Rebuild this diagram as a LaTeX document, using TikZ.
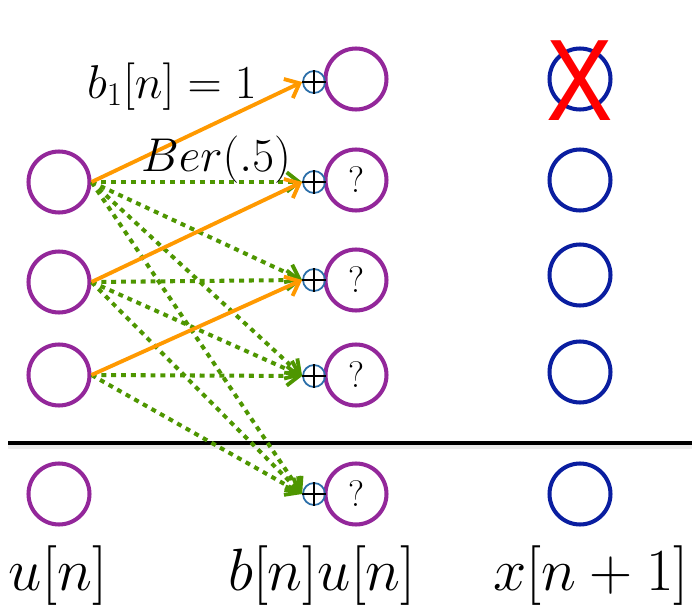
\RequirePackage{fix-cm}
\documentclass[tikz,border=0pt]{standalone}
\usepackage{fontspec}
\newfontfamily\crossfont{Liberation Sans}
\usetikzlibrary{arrows.meta}
\definecolor{inpurple}{RGB}{147,39,154}
\definecolor{stateblue}{RGB}{10,30,160}
\definecolor{addblue}{RGB}{43,110,168}
\definecolor{fixorange}{RGB}{255,153,0}
\definecolor{bergreen}{RGB}{78,150,0}
\begin{document}
\begin{tikzpicture}[x=0.02cm,y=-0.02cm,
  unode/.style={circle,draw=inpurple,line width=2.3pt,minimum size=1.22cm,inner sep=0pt,font=\fontsize{21}{24}\selectfont},
  xnode/.style={circle,draw=stateblue,line width=2.3pt,minimum size=1.22cm,inner sep=0pt},
  adder/.style={circle,draw=addblue,line width=1pt,minimum size=0.44cm,inner sep=0pt},
  fixed/.style={draw=fixorange,line width=2.2pt,-{Straight Barb[length=7pt,width=12pt,line width=2.2pt]}},
  random/.style={draw=bergreen,line width=2.3pt,dash pattern=on 2.8pt off 2.8pt,-{Straight Barb[length=7pt,width=11pt,line width=2.2pt]}},
  lbl/.style={font=\fontsize{34}{40}\selectfont},
  edgelbl/.style={font=\fontsize{27}{30}\selectfont}]
  \useasboundingbox (0,0) rectangle (700,615);
  % left column: u[n]
  \foreach \i/\y in {1/182,2/282,3/375,4/494}
    \node[unode] (u\i) at (59,\y) {};
  % middle column: b[n]u[n] with adders
  \node[unode] (b0) at (356,79) {};
  \foreach \i/\y in {1/180,2/280,3/375,4/494}
    \node[unode] (b\i) at (356,\y) {?};
  \foreach \i/\y in {0/82,1/182,2/280,3/376,4/494} {
    \node[adder] (p\i) at (314,\y) {};
    \draw[line width=0.7pt] (p\i.north) -- (p\i.south) (p\i.west) -- (p\i.east);
  }
  % right column: x[n+1]
  \foreach \i/\y in {0/79,1/180,2/275,3/372,4/494}
    \node[xnode] (x\i) at (580,\y) {};
  \node[text=red,font=\crossfont\fontsize{66}{66}\selectfont,xscale=0.86,inner sep=0pt] (cross) at (580,81) {X};
  % divider
  \draw[gray!15,line width=2pt] (8,447) -- (692,447);
  \draw[line width=2.6pt] (8,443) -- (692,443);
  % random bits
  \foreach \s/\t in {1/1,1/2,1/3,1/4,2/2,2/3,2/4,3/3,3/4}
    \draw[random] (u\s.east) -- (p\t.west);
  % fixed bits
  \foreach \s/\t in {1/0,2/1,3/2}
    \draw[fixed] (u\s.east) -- (p\t.west);
  \node[edgelbl] (fixlbl) at (172,87) {$b_1[n]=1$};
  \node[edgelbl] (berlbl) at (216,160) {$Ber(.5)$};
  % column labels
  \node[lbl] (ulbl) at (58,576) {$u[n]$};
  \node[lbl] (blbl) at (322,576) {$b[n]u[n]$};
  \node[lbl] (xlbl) at (591,576) {$x[n+1]$};
\end{tikzpicture}
\end{document}
